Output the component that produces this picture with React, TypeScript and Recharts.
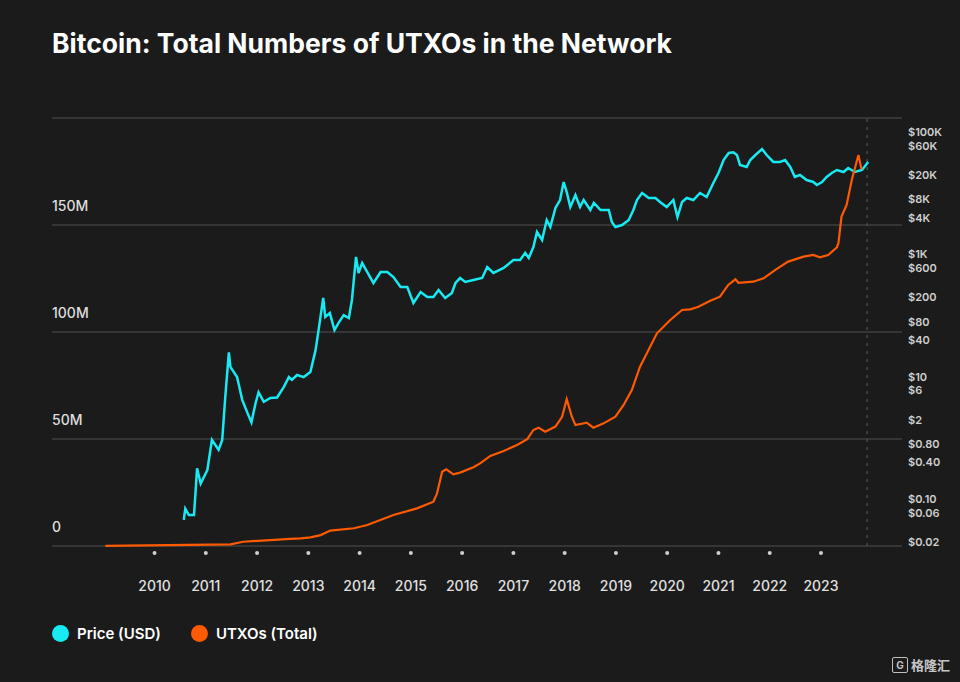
import { CartesianGrid, Line, LineChart, ReferenceLine, XAxis, YAxis } from 'recharts';

// bitcoin price (USD)
const priceYears = [
  2010.57, 2010.6, 2010.67, 2010.77, 2010.83, 2010.9, 2011.03, 2011.12, 2011.25, 2011.32,
  2011.38, 2011.45, 2011.48, 2011.61, 2011.71, 2011.81, 2011.89, 2011.97, 2012.03, 2012.13,
  2012.26, 2012.39, 2012.52, 2012.62, 2012.68, 2012.78, 2012.91, 2013.04, 2013.14, 2013.2,
  2013.29, 2013.33, 2013.42, 2013.51, 2013.59, 2013.69, 2013.79, 2013.85, 2013.93, 2013.98,
  2014.05, 2014.15, 2014.27, 2014.41, 2014.54, 2014.66, 2014.8, 2014.93, 2015.05, 2015.19,
  2015.32, 2015.44, 2015.54, 2015.67, 2015.8, 2015.87, 2015.96, 2016.06, 2016.22, 2016.39,
  2016.49, 2016.61, 2016.81, 2017.0, 2017.13, 2017.23, 2017.3, 2017.39, 2017.46, 2017.56,
  2017.65, 2017.72, 2017.82, 2017.91, 2017.98, 2018.04, 2018.11, 2018.21, 2018.3, 2018.37,
  2018.5, 2018.57, 2018.7, 2018.86, 2018.92, 2018.99, 2019.12, 2019.25, 2019.34, 2019.41,
  2019.51, 2019.64, 2019.77, 2019.86, 2019.99, 2020.12, 2020.2, 2020.29, 2020.38, 2020.51,
  2020.64, 2020.77, 2020.9, 2021.0, 2021.1, 2021.2, 2021.29, 2021.36, 2021.42, 2021.55,
  2021.62, 2021.72, 2021.85, 2021.94, 2022.07, 2022.2, 2022.3, 2022.4, 2022.49, 2022.59,
  2022.72, 2022.85, 2022.92, 2023.02, 2023.11, 2023.21, 2023.31, 2023.44, 2023.53, 2023.66,
  2023.8, 2023.92,
];
const priceUsd = [
  0.046, 0.07, 0.055, 0.055, 0.32, 0.18, 0.3, 0.93, 0.64, 0.93,
  4.7, 25, 14.5, 9.9, 4.2, 2.6, 1.8, 3.7, 5.6, 3.9,
  4.5, 4.6, 6.8, 9.9, 8.9, 10.7, 9.9, 12, 27, 58,
  194, 95, 110, 58, 76, 102, 91, 180, 908, 497,
  723, 515, 341, 515, 515, 427, 293, 293, 161, 243,
  201, 201, 262, 194, 234, 341, 411, 354, 382, 411,
  622, 497, 600, 810, 810, 1054, 873, 1321, 2323, 1718,
  3648, 2805, 5730, 7740, 15240, 10470, 5950, 9340, 5950, 7740,
  5310, 6920, 5310, 5310, 3385, 2805, 3020, 3648, 5310, 7740,
  10070, 8350, 8350, 7180, 5950, 7740, 4085, 7180, 8350, 7740,
  10070, 8670, 14680, 21380, 34860, 45390, 46500, 42100, 28900, 26800,
  34860, 42100, 52750, 42100, 32360, 32360, 34860, 26800, 18400, 19820,
  16430, 15240, 13610, 15240, 18400, 21380, 23930, 22180, 25820, 22180,
  23930, 32360,
];

// total UTXOs, millions
const utxoYears = [
  2009.04, 2011.48, 2011.73, 2012.65, 2012.85, 2013.04, 2013.24, 2013.43, 2013.89, 2014.15,
  2014.66, 2015.12, 2015.44, 2015.51, 2015.61, 2015.69, 2015.83, 2015.96, 2016.22, 2016.35,
  2016.55, 2016.81, 2017.07, 2017.27, 2017.39, 2017.49, 2017.62, 2017.82, 2017.95, 2018.04,
  2018.14, 2018.21, 2018.43, 2018.56, 2018.76, 2018.99, 2019.15, 2019.31, 2019.47, 2019.8,
  2020.06, 2020.29, 2020.45, 2020.61, 2020.84, 2021.03, 2021.19, 2021.33, 2021.39, 2021.68,
  2021.88, 2022.11, 2022.36, 2022.66, 2022.85, 2022.98, 2023.14, 2023.31, 2023.34, 2023.4,
  2023.5, 2023.6, 2023.73, 2023.79,
];
const utxoMillions = [
  0.05, 0.8, 2.0, 3.3, 3.6, 4.0, 5.1, 7.2, 8.3, 9.8,
  14.5, 17.6, 20.7, 24.6, 34.7, 35.8, 33.5, 34.3, 36.8, 38.6,
  42.1, 44.4, 47.2, 49.9, 54.2, 55.3, 53.4, 55.8, 60.4, 68.6,
  60.4, 56.5, 57.6, 55.3, 57.3, 60.4, 65.9, 72.9, 83.8, 99.4,
  105.6, 110.3, 110.6, 111.8, 114.6, 116.5, 122.0, 124.6, 123.0, 123.5,
  125.1, 129.0, 132.9, 135.2, 136.0, 134.9, 136.0, 139.6, 141.5, 153.9,
  159.4, 171.0, 182.7, 176.0,
];

const yearTicks = [2010, 2011, 2012, 2013, 2014, 2015, 2016, 2017, 2018, 2019, 2020, 2021, 2022, 2023];
const utxoTicks = [0, 50, 100, 150, 200];
const priceTicks = [0.02, 0.06, 0.1, 0.4, 0.8, 2, 6, 10, 40, 80, 200, 600, 1000, 4000, 8000, 20000, 60000, 100000];
const priceTickLabels = ['$0.02', '$0.06', '$0.10', '$0.40', '$0.80', '$2', '$6', '$10', '$40', '$80', '$200', '$600', '$1K', '$4K', '$8K', '$20K', '$60K', '$100K'];
const lastDataYear = 2023.9;

const priceData = priceYears.map((t, i) => ({ t, price: priceUsd[i] }));
const utxoData = utxoYears.map((t, i) => ({ t, utxo: utxoMillions[i] }));

const CYAN = '#17eaf2';
const ORANGE = '#fd5a03';
const BG = '#1b1b1b';
const FONT = 'Inter, "Noto Sans", sans-serif';

const PLOT_LEFT = 52;
const PLOT_RIGHT = 902;
const PLOT_TOP = 118;
const PLOT_BOTTOM = 546;

// faint brand watermark, tiled
const watermarks = [
  [60, 80], [360, 70], [640, 90],
  [30, 280], [320, 250], [600, 300],
  [160, 460], [440, 430], [700, 480],
];

const LeftTick = ({ y, payload }: any) => {
  if (payload.value === 200) return null;
  return (
    <text x={PLOT_LEFT} y={y - 20} fill="#dedede" fontSize={14} fontWeight={500} fontFamily={FONT} dominantBaseline="central">
      {payload.value === 0 ? '0' : `${payload.value}M`}
    </text>
  );
};

const RightTick = ({ y, payload }: any) => {
  const idx = priceTicks.indexOf(payload.value);
  return (
    <text x={PLOT_RIGHT + 6} y={y} fill="#cfcfcf" fontSize={11} fontWeight={600} fontFamily={FONT} dominantBaseline="central">
      {priceTickLabels[idx] ?? ''}
    </text>
  );
};

const YearTick = ({ x, payload }: any) => (
  <g>
    <circle cx={x} cy={PLOT_BOTTOM + 7} r={2} fill="#cfcfcf" />
    <text x={x} y={PLOT_BOTTOM + 39} fill="#e0e0e0" fontSize={14} fontWeight={500} fontFamily={FONT} textAnchor="middle" dominantBaseline="central">
      {payload.value}
    </text>
  </g>
);

export default function App() {
  return (
    <div style={{ position: 'absolute', left: 0, top: 0, width: 960, height: 682, background: BG, overflow: 'hidden', fontFamily: FONT }}>
      {watermarks.map(([wx, wy], i) => (
        <div
          key={i}
          style={{
            position: 'absolute',
            left: wx,
            top: wy,
            transform: 'rotate(-28deg)',
            fontSize: 44,
            fontWeight: 800,
            color: 'rgba(255,255,255,0.025)',
            whiteSpace: 'nowrap',
          }}
        >
          Bitget
        </div>
      ))}
      <div style={{ position: 'absolute', left: 52, top: 27, fontSize: 26.5, fontWeight: 700, color: '#ffffff', letterSpacing: 0 }}>
        Bitcoin: Total Numbers of UTXOs in the Network
      </div>
      <div style={{ position: 'absolute', left: 0, top: 0 }}>
        <LineChart
          width={960}
          height={682}
          margin={{ top: PLOT_TOP, bottom: 682 - PLOT_BOTTOM - 30, left: PLOT_LEFT - 1, right: 960 - PLOT_RIGHT - 1 }}
        >
          <CartesianGrid yAxisId="left" horizontal vertical={false} stroke="#3f3f3f" strokeWidth={1.5} />
          <XAxis
            dataKey="t"
            type="number"
            domain={[2008.0, 2024.58]}
            ticks={yearTicks}
            interval={0}
            axisLine={false}
            tickLine={false}
            height={30}
            tick={<YearTick />}
            allowDataOverflow
          />
          <YAxis
            yAxisId="left"
            domain={[0, 200]}
            ticks={utxoTicks}
            interval={0}
            width={1}
            axisLine={false}
            tickLine={false}
            tick={<LeftTick />}
          />
          <YAxis
            yAxisId="right"
            orientation="right"
            scale="log"
            domain={[0.0172, 169300]}
            ticks={priceTicks}
            interval={0}
            allowDataOverflow
            width={1}
            axisLine={false}
            tickLine={false}
            tick={<RightTick />}
          />
          <ReferenceLine yAxisId="left" x={lastDataYear} stroke="#4a4a4a" strokeDasharray="3 5" strokeWidth={1.5} />
          <Line
            yAxisId="right"
            data={priceData}
            dataKey="price"
            type="linear"
            stroke={CYAN}
            strokeWidth={2.5}
            dot={false}
            isAnimationActive={false}
          />
          <Line
            yAxisId="left"
            data={utxoData}
            dataKey="utxo"
            type="linear"
            stroke={ORANGE}
            strokeWidth={2.2}
            dot={false}
            isAnimationActive={false}
          />
        </LineChart>
      </div>
      <div style={{ position: 'absolute', left: 52, top: 624, display: 'flex', alignItems: 'center', gap: 8 }}>
        <div style={{ width: 17, height: 17, borderRadius: 9, background: CYAN }} />
        <span style={{ color: '#ffffff', fontSize: 15, fontWeight: 600 }}>Price (USD)</span>
        <div style={{ width: 17, height: 17, borderRadius: 9, background: ORANGE, marginLeft: 22 }} />
        <span style={{ color: '#ffffff', fontSize: 15, fontWeight: 600 }}>UTXOs (Total)</span>
      </div>
      <div style={{ position: 'absolute', right: 10, bottom: 8, display: 'flex', alignItems: 'center', gap: 3, opacity: 0.85 }}>
        <div style={{ width: 14, height: 14, border: '1.5px solid #ddd', borderRadius: 2, color: '#ddd', fontSize: 10, fontWeight: 700, display: 'flex', alignItems: 'center', justifyContent: 'center' }}>G</div>
        <span style={{ color: '#e6e6e6', fontSize: 13, fontWeight: 600, fontFamily: '"Noto Sans CJK SC", sans-serif' }}>格隆汇</span>
      </div>
    </div>
  );
}
